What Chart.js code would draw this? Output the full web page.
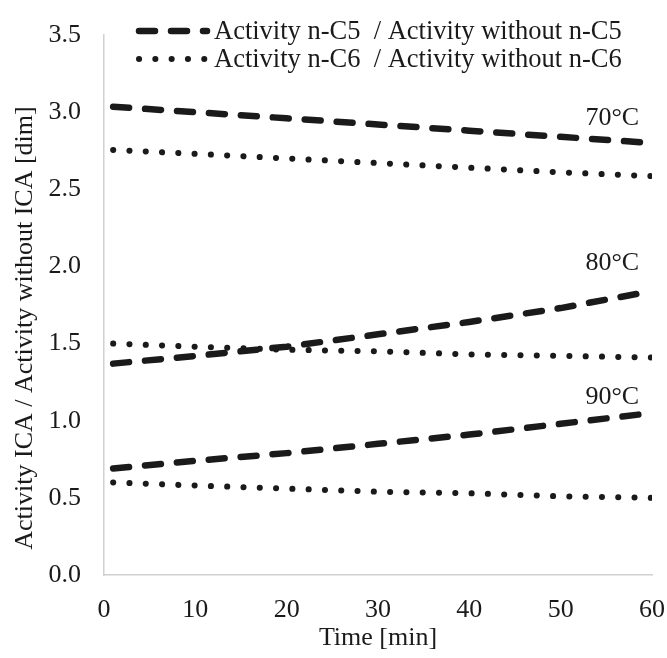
<!DOCTYPE html>
<html>
<head>
<meta charset="utf-8">
<script src="https://cdn.jsdelivr.net/npm/chart.js@4.4.1/dist/chart.umd.min.js"></script>
<style>
  body { margin: 0; background: #fff; }
</style>
</head>
<body>
<canvas id="chart" width="667" height="658"></canvas>
<script>
// time points [min]
const times = [1, 10, 20, 30, 40, 50, 60];

// activity ratio with / without ICA
const c5at70 = [3.035, 3.00, 2.96, 2.92, 2.88, 2.84, 2.80];
const c6at70 = [2.755, 2.73, 2.70, 2.67, 2.64, 2.61, 2.585];
const c5at80 = [1.37, 1.42, 1.48, 1.56, 1.64, 1.73, 1.84];
const c6at80 = [1.50, 1.48, 1.46, 1.45, 1.43, 1.42, 1.41];
const c5at90 = [0.69, 0.74, 0.79, 0.85, 0.91, 0.98, 1.05];
const c6at90 = [0.60, 0.58, 0.56, 0.54, 0.53, 0.51, 0.50];

const legendLabels = ['Activity n-C5  / Activity without n-C5', 'Activity n-C6  / Activity without n-C6'];
const tempLabels = ['70°C', '80°C', '90°C'];
const tempLabelY = [2.96, 2.02, 1.15];
const yTitle = 'Activity ICA / Activity without ICA [dim]';

const FONT = "'Liberation Serif', 'Times New Roman', serif";
const dashed = { borderDash: [16, 16], borderWidth: 6.5 };
const dotted = { borderDash: [0.1, 16.2], borderWidth: 6 };

function series(ys, style) {
    return Object.assign({
        data: times.map((t, i) => ({ x: t, y: ys[i] })),
        borderColor: '#1a1a1a',
        borderCapStyle: 'round',
        borderJoinStyle: 'round',
        pointRadius: 0,
        tension: 0,
        fill: false
    }, style);
}

// legend inside the plot, temperature labels, y title
const annotations = {
    id: 'annotations',
    afterDraw(chart) {
        const ctx = chart.ctx;
        const xs = chart.scales.x, ys = chart.scales.y;
        ctx.save();
        ctx.fillStyle = '#1a1a1a';
        ctx.textBaseline = 'middle';

        ctx.font = '26.5px ' + FONT;
        const styles = [dashed, dotted];
        const rowY = [31, 59];
        legendLabels.forEach((txt, i) => {
            ctx.save();
            ctx.strokeStyle = '#1a1a1a';
            ctx.lineCap = 'round';
            ctx.lineWidth = styles[i].borderWidth;
            ctx.setLineDash(styles[i].borderDash);
            ctx.beginPath();
            ctx.moveTo(139, rowY[i]);
            ctx.lineTo(207, rowY[i]);
            ctx.stroke();
            ctx.restore();
            ctx.textAlign = 'left';
            ctx.fillText(txt, 214, rowY[i] + 1);
        });

        ctx.font = '26px ' + FONT;
        ctx.textAlign = 'right';
        tempLabels.forEach((txt, i) => {
            ctx.fillText(txt, xs.getPixelForValue(58.6), ys.getPixelForValue(tempLabelY[i]));
        });

        ctx.translate(25, 328);
        ctx.rotate(-Math.PI / 2);
        ctx.textAlign = 'center';
        ctx.fillText(yTitle, 0, 0);
        ctx.restore();
    }
};

new Chart(document.getElementById('chart'), {
    type: 'line',
    data: {
        datasets: [
            series(c5at70, dashed),
            series(c6at70, dotted),
            series(c5at80, dashed),
            series(c6at80, dotted),
            series(c5at90, dashed),
            series(c6at90, dotted)
        ]
    },
    options: {
        responsive: false,
        animation: false,
        layout: { padding: { top: 35, right: 15, left: 0, bottom: 0 } },
        plugins: {
            legend: { display: false },
            tooltip: { enabled: false }
        },
        scales: {
            x: {
                type: 'linear',
                min: 0,
                max: 60,
                afterFit: s => { s.height = 83; s.paddingLeft = 0; s.paddingRight = 0; },
                grid: { display: false, drawTicks: false },
                border: { color: '#d0d0d0', width: 1.5 },
                ticks: {
                    stepSize: 10,
                    padding: 20,
                    color: '#1a1a1a',
                    font: { family: FONT, size: 26 }
                },
                title: {
                    display: true,
                    text: 'Time [min]',
                    color: '#1a1a1a',
                    font: { family: FONT, size: 26 },
                    padding: { top: 0, bottom: 4 }
                }
            },
            y: {
                min: 0,
                max: 3.5,
                afterFit: s => { s.width = 104; s.paddingTop = 0; s.paddingBottom = 0; },
                grid: { display: false, drawTicks: false },
                border: { color: '#d0d0d0', width: 1.5 },
                ticks: {
                    stepSize: 0.5,
                    padding: 23,
                    color: '#1a1a1a',
                    font: { family: FONT, size: 26 },
                    callback: v => v.toFixed(1)
                }
            }
        }
    },
    plugins: [annotations]
});
</script>
</body>
</html>
